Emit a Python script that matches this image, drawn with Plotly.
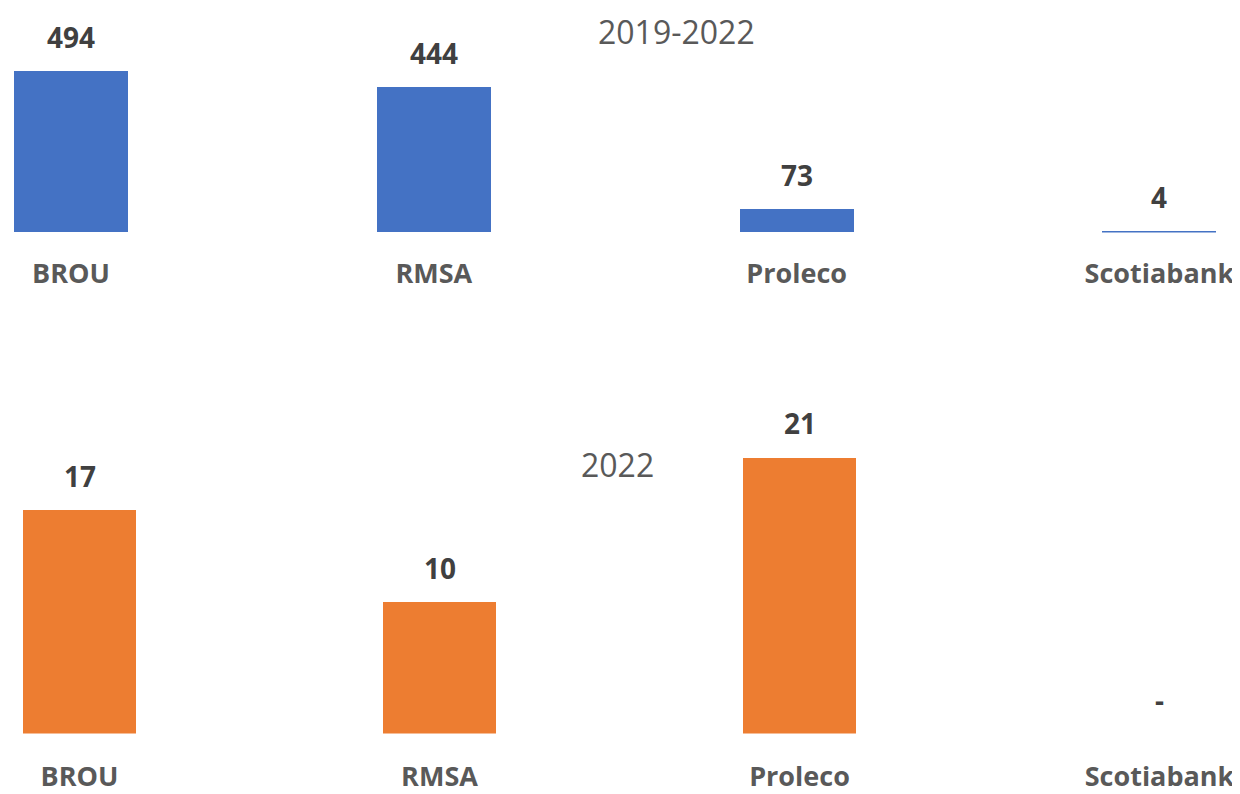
import plotly.graph_objects as go
from plotly.subplots import make_subplots

categories = ["BROU", "RMSA", "Proleco", "Scotiabank"]
values_2019_2022 = [494, 444, 73, 4]
values_2022 = [17, 10, 21, 0]
title_top = "2019-2022"
title_bottom = "2022"

BLUE = "#4472C4"
ORANGE = "#ED7D31"
LABEL_DARK = "#404040"
GREY = "#595959"
FONT = "Open Sans"

# page has an 8px body margin; size the figure to fit inside the viewport
W, H = 1232, 786

fig = make_subplots(rows=2, cols=1)

fig.add_trace(go.Bar(x=categories, y=values_2019_2022, marker=dict(color=BLUE, line=dict(width=0)),
                     width=0.314, hoverinfo="x+y"), row=1, col=1)
fig.add_trace(go.Bar(x=categories, y=values_2022, marker=dict(color=ORANGE, line=dict(width=0)),
                     width=0.314, hoverinfo="x+y"), row=2, col=1)

def fmt(v):
    return "-" if v == 0 else f"{v:,}"

annotations = []
for c, v in zip(categories, values_2019_2022):
    annotations.append(dict(x=c, y=v, xref="x", yref="y", text=f"<b>{fmt(v)}</b>", showarrow=False,
                            yanchor="bottom", yshift=13,
                            font=dict(family=FONT, size=28, color=LABEL_DARK)))
for c, v in zip(categories, values_2022):
    annotations.append(dict(x=c, y=v, xref="x2", yref="y2", text=f"<b>{fmt(v)}</b>", showarrow=False,
                            yanchor="bottom", yshift=13,
                            font=dict(family=FONT, size=28, color=LABEL_DARK)))

annotations.append(dict(x=668 / W, y=1.0, xref="paper", yref="paper", text=title_top,
                        showarrow=False, xanchor="center", yanchor="top",
                        font=dict(family=FONT, size=32, color=GREY)))
annotations.append(dict(x=609 / W, y=1 - 462 / H, xref="paper", yref="paper", text=title_bottom,
                        showarrow=False, xanchor="center", yanchor="middle",
                        font=dict(family=FONT, size=32, color=GREY)))

top_base = 1 - 227 / H
bot_base = 1 - 734 / H

axis_common = dict(showgrid=False, zeroline=False, showline=False, ticks="",
                   tickfont=dict(family=FONT, size=27, color=GREY),
                   tickprefix="<b>", ticksuffix="</b>")

fig.update_layout(
    width=W, height=H,
    margin=dict(l=0, r=0, t=0, b=0),
    paper_bgcolor="white", plot_bgcolor="white",
    showlegend=False,
    bargap=0,
    annotations=annotations,
    xaxis=dict(domain=[0, 1], range=[-0.1737, 3.2221], type="category",
               categoryorder="array", categoryarray=categories,
               ticklabelstandoff=23, **axis_common),
    yaxis=dict(domain=[top_base, 1.0], range=[0, 686], visible=False),
    xaxis2=dict(domain=[0, 1], range=[-0.1986, 3.2236], type="category",
                categoryorder="array", categoryarray=categories,
                ticklabelstandoff=24, **axis_common),
    yaxis2=dict(domain=[bot_base, 0.5], range=[0, 25.6], visible=False),
)

fig.write_html("out.html")
